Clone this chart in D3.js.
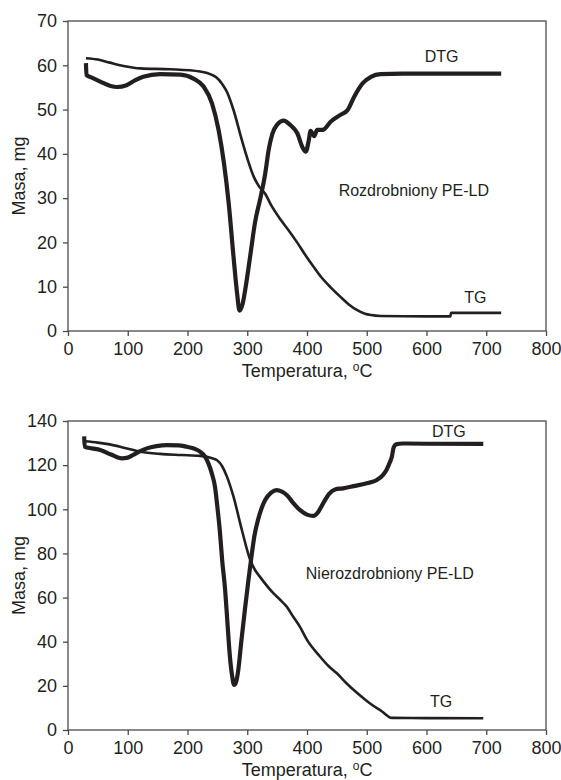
<!DOCTYPE html>
<html>
<head>
<meta charset="utf-8">
<script src="https://cdn.jsdelivr.net/npm/d3@7"></script>
<style>
  body { margin: 0; background: #fff; }
  text { font-family: "Liberation Sans", Arial, sans-serif; fill: #231f20; }
</style>
</head>
<body>
<svg id="chart" width="561" height="780"></svg>
<script>
/* ticks */
const xTicks = [0, 100, 200, 300, 400, 500, 600, 700, 800];
const yTicksTop = [0, 10, 20, 30, 40, 50, 60, 70];
const yTicksBottom = [0, 20, 40, 60, 80, 100, 120, 140];

/* rozdrobniony PE-LD : [temperatura, masa] */
const tgTop = [[30,61.6],[50,61.3],[70,60.6],[95,59.8],[121,59.3],[171,59.1],[221,58.6],[240,57.9],[249,57.2],
  [258,55.8],[266,54.0],[277,49.9],[291,43.1],[301,38.6],[311,34.8],[320,32.6],[330,31.0],[340,28.4],[356,25.1],
  [370,22.6],[384,19.9],[398,17.0],[411,14.5],[423,12.3],[440,9.8],[456,7.7],[470,6.0],[484,4.7],[497,3.9],
  [507,3.6],[523,3.4],[600,3.3],[640,3.3],[641,4.1],[725,4.1]];
const dtgTop = [[30,60.5],[31,57.8],[40,57.2],[54,56.3],[70,55.4],[82,55.1],[98,55.5],[112,56.6],[126,57.4],
  [154,58.0],[188,57.9],[210,57.0],[227,55.2],[241,51.4],[252,45.4],[261,37.9],[269,28.8],[277,16.8],[283,8.5],
  [287,4.6],[292,6.0],[298,10.5],[305,17.0],[313,24.5],[322,30.0],[330,35.5],[336,41.0],[342,44.5],[350,46.6],
  [361,47.5],[372,46.5],[384,44.6],[392,41.6],[398,40.5],[403,43.1],[406,45.2],[412,44.0],[417,45.4],[426,45.4],
  [440,47.3],[456,48.8],[468,49.9],[479,52.9],[493,55.9],[507,57.4],[523,58.0],[560,58.1],[650,58.1],[725,58.1]];

/* nierozdrobniony PE-LD */
const tgBottom = [[28,130.8],[50,130.2],[70,129.4],[95,127.8],[121,126.1],[154,125.1],[190,124.6],[221,124.2],
  [240,123.2],[249,122.3],[258,119.5],[266,114.8],[277,105.7],[291,90.6],[305,77.0],[313,72.5],[321,69.5],
  [344,61.9],[355,59.0],[366,55.9],[377,51.3],[388,46.8],[400,40.8],[422,33.2],[436,29.0],[450,25.7],[466,21.2],
  [485,16.5],[505,12.1],[525,8.5],[542,5.5],[600,5.4],[695,5.3]];
const dtgBottom = [[27,133],[28,128.3],[40,127.6],[54,126.9],[72,124.8],[90,123.1],[100,123.4],[109,124.6],
  [120,126.2],[132,127.6],[148,128.6],[165,129.1],[185,129.0],[199,128.3],[212,127.4],[221,126.1],[229,124.0],
  [235,120.8],[241,116.0],[246,110.2],[250,101.0],[254,90.6],[258,77.0],[263,63.4],[267,48.0],[271,33.2],
  [275,24.0],[278,20.4],[281,21.5],[285,27.2],[290,40.0],[296,54.4],[302,68.0],[307,78.5],[312,88.0],[318,95.2],
  [324,100.5],[330,104.2],[340,107.5],[349,108.7],[358,108.0],[366,106.5],[375,103.5],[388,99.7],[400,97.6],
  [411,97.0],[418,98.5],[427,102.7],[437,107.0],[447,109.0],[460,109.5],[478,110.5],[500,111.8],[517,113.3],
  [527,115.5],[533,117.8],[539,121.5],[542,123.8],[545,128.0],[549,129.4],[560,129.8],[600,129.7],[695,129.6]];

/* etykiety: [tekst, temperatura, masa] */
const labelsTop = [["DTG", 597, 60.7], ["Rozdrobniony PE-LD", 453, 30.5], ["TG", 663, 6.3]];
const labelsBottom = [["DTG", 609, 132.8], ["Nierozdrobniony PE-LD", 398, 68.4], ["TG", 606, 10.4]];

const svg = d3.select("#chart");

function drawPanel(top, bottom, yMax, yTicks, tg, dtg, labels, titleY) {
  const left = 68, right = 546;
  const x = d3.scaleLinear().domain([0, 800]).range([left, right]);
  const y = d3.scaleLinear().domain([0, yMax]).range([bottom, top]);
  const g = svg.append("g");

  // ramka wykresu
  g.append("rect")
    .attr("x", left).attr("y", top)
    .attr("width", right - left).attr("height", bottom - top)
    .attr("fill", "none").attr("stroke", "#4a4a4a").attr("stroke-width", 1.3);

  const ax = g.append("g")
    .attr("transform", `translate(0,${bottom})`)
    .call(d3.axisBottom(x).tickValues(xTicks).tickSize(5).tickPadding(6).tickFormat(d3.format("d")));
  const ay = g.append("g")
    .attr("transform", `translate(${left},0)`)
    .call(d3.axisLeft(y).tickValues(yTicks).tickSize(5).tickPadding(6).tickFormat(d3.format("d")));
  [ax, ay].forEach(a => {
    a.select(".domain").remove();
    a.selectAll("line").attr("stroke", "#4a4a4a").attr("stroke-width", 1.3);
    a.selectAll("text").attr("font-size", 18).attr("fill", "#231f20")
      .style("font-family", "'Liberation Sans', Arial, sans-serif");
  });

  const line = d3.line().x(d => x(d[0])).y(d => y(d[1])).curve(d3.curveMonotoneX);

  g.append("path").datum(tg)
    .attr("d", line).attr("fill", "none")
    .attr("stroke", "#231f20").attr("stroke-width", 2.6).attr("stroke-linejoin", "round");
  g.append("path").datum(dtg)
    .attr("d", line).attr("fill", "none")
    .attr("stroke", "#231f20").attr("stroke-width", 4.2).attr("stroke-linejoin", "round");

  g.selectAll(".lbl").data(labels).enter().append("text")
    .attr("x", d => x(d[1])).attr("y", d => y(d[2]))
    .attr("font-size", 16).text(d => d[0]);

  // tytuly osi
  g.append("text")
    .attr("transform", `translate(25,${(top + bottom) / 2}) rotate(-90)`)
    .attr("text-anchor", "middle").attr("font-size", 18)
    .text("Masa, mg");
  const t = g.append("text")
    .attr("x", (left + right) / 2).attr("y", titleY)
    .attr("text-anchor", "middle").attr("font-size", 18);
  t.append("tspan").text("Temperatura, ");
  t.append("tspan").attr("dy", -6).attr("font-size", 12).text("o");
  t.append("tspan").attr("dy", 6).text("C");
}

drawPanel(21, 331, 70, yTicksTop, tgTop, dtgTop, labelsTop, 377);
drawPanel(421, 730, 140, yTicksBottom, tgBottom, dtgBottom, labelsBottom, 776);
</script>
</body>
</html>
